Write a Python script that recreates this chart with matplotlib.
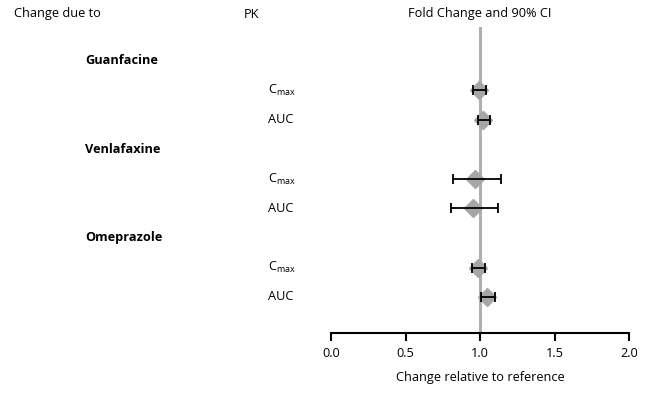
import matplotlib
matplotlib.use("Agg")
import matplotlib.pyplot as plt
from matplotlib import transforms

plt.rcParams['font.family'] = ['Open Sans', 'DejaVu Sans']

drugs = ["Guanfacine", "Venlafaxine", "Omeprazole"]
pk_params = ["C$_{\\mathregular{max}}$", "AUC"]
fold_change = [0.99, 1.02, 0.965, 0.95, 0.985, 1.05]
ci_low = [0.955, 0.985, 0.82, 0.805, 0.945, 1.005]
ci_high = [1.04, 1.065, 1.14, 1.12, 1.035, 1.10]
xticks = [0.0, 0.5, 1.0, 1.5, 2.0]

fig = plt.figure(figsize=(6.5, 3.95), dpi=100)
# axes: x from px 331 to 629, y from px 27 (top) to 333 (axis line)
ax = fig.add_axes([331 / 650, 62 / 395, 298 / 650, 306 / 395])

# row layout: header then two params per drug
header_rows = []
param_rows = []
row = 0
for d in drugs:
    header_rows.append(row)
    param_rows.extend([row + 1, row + 2])
    row += 3

ax.axvline(1.0, color="#b0b0b0", lw=2.2, zorder=1)
ax.plot(fold_change, param_rows, "D", color="#a6a6a6", ms=9, zorder=2)
xerr = [[f - lo for f, lo in zip(fold_change, ci_low)],
        [hi - f for f, hi in zip(fold_change, ci_high)]]
ax.errorbar(fold_change, param_rows, xerr=xerr, fmt="none", ecolor="black",
            elinewidth=1.3, capsize=3.5, capthick=1.3, zorder=3)

ax.set_xlim(0, 2)
ax.set_ylim((333 - 61) / 29.5, (27 - 61) / 29.5)
ax.set_xticks(xticks)
ax.set_xticklabels([f"{t:.1f}" for t in xticks], fontsize=9.2)
ax.set_yticks([])
for s in ["top", "right", "left"]:
    ax.spines[s].set_visible(False)
ax.spines["bottom"].set_linewidth(1.5)
ax.tick_params(axis="x", length=6, width=1.5, pad=4)
ax.set_xlabel("Change relative to reference", fontsize=9.2, labelpad=8)

trans = transforms.blended_transform_factory(fig.transFigure, ax.transData)
for d, r in zip(drugs, header_rows):
    ax.text(85 / 650, r, d, transform=trans, fontsize=9.2, fontweight="bold",
            ha="left", va="center")
for i, r in enumerate(param_rows):
    ax.text(268 / 650, r, pk_params[i % 2], transform=trans, fontsize=9.2,
            ha="left", va="center")

fig.text(14 / 650, 1 - 14 / 395, "Change due to", fontsize=9.2, ha="left", va="center")
fig.text(244 / 650, 1 - 14 / 395, "PK", fontsize=9.2, ha="left", va="center")
fig.text(480 / 650, 1 - 14 / 395, "Fold Change and 90% CI", fontsize=9.2,
         ha="center", va="center")

fig.savefig("out.png", dpi=100)
